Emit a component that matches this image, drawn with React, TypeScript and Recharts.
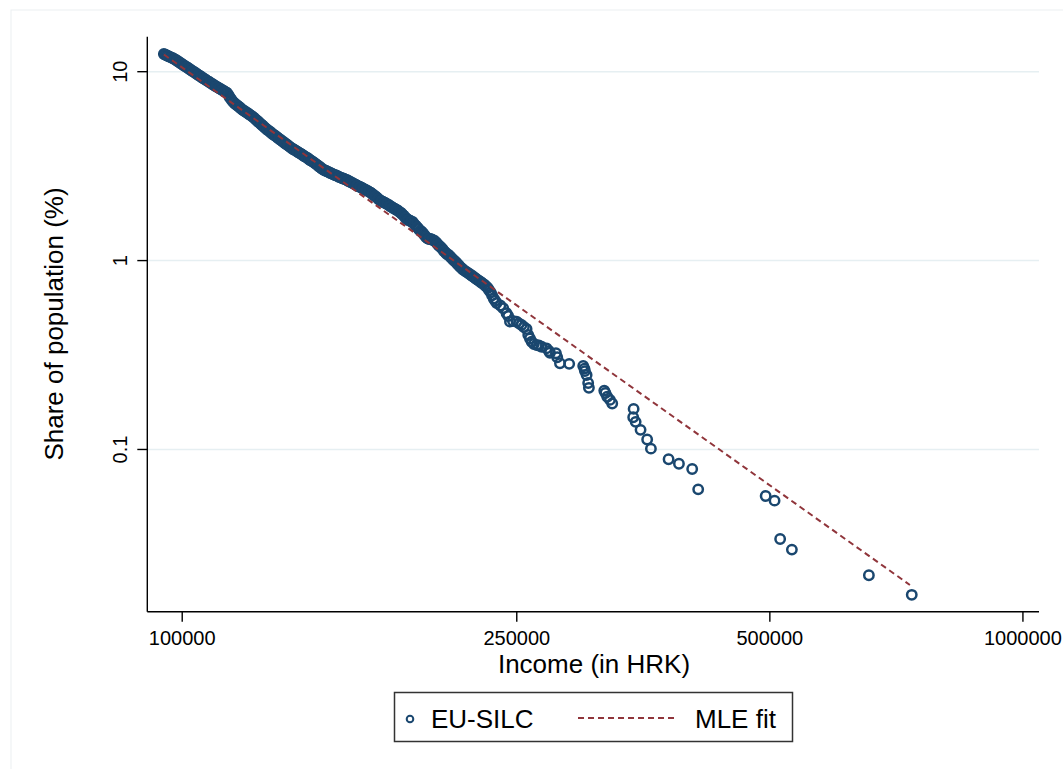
import { ScatterChart, Scatter, XAxis, YAxis, CartesianGrid } from "recharts";

// EU-SILC observations: income (HRK) and share of population above it (%)
const incomeHRK = [
  95100, 95900, 96700, 97500, 98300, 99100, 99900, 100700, 101600, 102400,
  103300, 104100, 105000, 105800, 106700, 107600, 108500, 109400, 110300, 111200,
  112100, 113000, 113900, 114900, 115800, 116800, 117800, 118700, 119700, 120700,
  121700, 122700, 123700, 124700, 125700, 126800, 127800, 128900, 129900, 131000,
  132100, 133200, 134300, 135400, 136500, 137600, 138800, 139900, 141100, 142200,
  143400, 144600, 145800, 147000, 148200, 149400, 150600, 151900, 153100, 154400,
  155700, 157000, 158200, 159600, 160900, 162200, 163500, 164900, 166200, 167600,
  169000, 170400, 171800, 173200, 174600, 176100, 177500, 179000, 180500, 182000,
  183500, 185000, 186500, 188000, 189600, 191100, 192700, 194300, 195900, 197500,
  199200, 200800, 202500, 204100, 205800, 207500, 209200, 210900, 212700, 214400,
  216200, 218000, 219800, 221600, 223400, 225300, 227100, 229000, 230900, 232800,
  234700, 236600, 239000, 240900, 243100, 244200, 245400, 247400, 249900, 251500,
  253300, 254900, 256800, 258000, 259200, 260400, 262000, 264000, 265600, 267600,
  271300, 273000, 273800, 278300, 279300, 281400, 288600, 299900, 300900, 301300,
  302700, 304000, 304600, 317700, 318700, 320300, 322700, 324700, 344300, 343900,
  346200, 350900, 357300, 361000, 378900, 389800, 404200, 410900, 494300, 506500,
  514300, 531100, 655800, 737500,
];
const sharePct = [
  12.41, 12.19, 11.98, 11.77, 11.54, 11.26, 10.99, 10.72, 10.46, 10.21,
  9.96, 9.72, 9.49, 9.26, 9.05, 8.84, 8.63, 8.43, 8.25, 8.08,
  7.91, 7.74, 7.33, 6.94, 6.73, 6.52, 6.32, 6.17, 6.02, 5.87,
  5.7, 5.52, 5.34, 5.17, 5.01, 4.86, 4.72, 4.59, 4.47, 4.35,
  4.23, 4.12, 4.0, 3.9, 3.82, 3.73, 3.65, 3.56, 3.48, 3.39,
  3.31, 3.22, 3.13, 3.04, 2.99, 2.94, 2.89, 2.84, 2.8, 2.75,
  2.71, 2.67, 2.62, 2.57, 2.52, 2.47, 2.43, 2.38, 2.34, 2.29,
  2.22, 2.16, 2.09, 2.05, 2.01, 1.97, 1.92, 1.88, 1.84, 1.79,
  1.73, 1.66, 1.63, 1.6, 1.53, 1.47, 1.42, 1.36, 1.31, 1.3,
  1.28, 1.24, 1.19, 1.15, 1.1, 1.07, 1.03, 0.995, 0.957, 0.921,
  0.89, 0.869, 0.848, 0.826, 0.804, 0.783, 0.763, 0.743, 0.716, 0.679,
  0.63, 0.596, 0.578, 0.559, 0.526, 0.509, 0.475, 0.479, 0.475, 0.465,
  0.456, 0.445, 0.434, 0.404, 0.387, 0.372, 0.362, 0.357, 0.355, 0.35,
  0.343, 0.332, 0.325, 0.323, 0.308, 0.286, 0.284, 0.277, 0.268, 0.26,
  0.248, 0.225, 0.212, 0.205, 0.199, 0.19, 0.183, 0.175, 0.164, 0.148,
  0.14, 0.127, 0.113, 0.101, 0.0887, 0.0841, 0.0788, 0.0615, 0.0567, 0.0536,
  0.0336, 0.0295, 0.0216, 0.017,
];

// more observations read along the dense band (95k - 236k HRK)
const bandIncome = [
  95500, 96300, 97100, 97900, 98700, 99500, 100300, 101200, 102000, 102800,
  103700, 104500, 105400, 106300, 107100, 108000, 108900, 109800, 110700, 111600,
  112500, 113500, 114400, 115300, 116300, 117300, 118200, 119200, 120200, 121200,
  122200, 123200, 124200, 125200, 126200, 127300, 128300, 129400, 130400, 131500,
  132600, 133700, 134800, 135900, 137100, 138200, 139300, 140500, 141600, 142800,
  144000, 145200, 146400, 147600, 148800, 150000, 151200, 152500, 153700, 155000,
  156300, 157600, 158900, 160200, 161500, 162800, 164200, 165500, 166900, 168300,
  169700, 171100, 172500, 173900, 175300, 176800, 178200, 179700, 181200, 182700,
  184200, 185700, 187200, 188800, 190300, 191900, 193500, 195100, 196700, 198300,
  200000, 201600, 203300, 204900, 206600, 208300, 210000, 211800, 213500, 215300,
  217100, 218900, 220700, 222500, 224300, 226200, 228000, 229900, 231800, 233700,
  235600,
];
const bandShare = [
  12.3, 12.08, 11.87, 11.65, 11.4, 11.12, 10.85, 10.59, 10.33, 10.08,
  9.84, 9.6, 9.37, 9.15, 8.94, 8.73, 8.53, 8.34, 8.16, 7.99,
  7.82, 7.53, 7.13, 6.83, 6.62, 6.42, 6.24, 6.09, 5.94, 5.78,
  5.61, 5.43, 5.25, 5.09, 4.93, 4.79, 4.65, 4.53, 4.41, 4.29,
  4.17, 4.06, 3.95, 3.86, 3.77, 3.69, 3.6, 3.52, 3.43, 3.35,
  3.26, 3.17, 3.08, 3.01, 2.96, 2.91, 2.86, 2.82, 2.77, 2.73,
  2.69, 2.64, 2.59, 2.54, 2.49, 2.45, 2.4, 2.36, 2.31, 2.25,
  2.19, 2.12, 2.07, 2.03, 1.99, 1.94, 1.9, 1.86, 1.81, 1.76,
  1.69, 1.64, 1.61, 1.56, 1.5, 1.44, 1.39, 1.33, 1.3, 1.29,
  1.26, 1.21, 1.17, 1.12, 1.08, 1.05, 1.01, 0.976, 0.939, 0.905,
  0.879, 0.858, 0.837, 0.815, 0.793, 0.773, 0.753, 0.729, 0.697, 0.654,
  0.613,
];

// MLE (Pareto) fit, straight line on log-log axes
const fitIncome = [95100, 733800];
const fitShare = [12.33, 0.01917];

const xTicks = [100000, 250000, 500000, 1000000];
const yTicks = [0.1, 1, 10];

const surveyData = [
  ...incomeHRK.map((x, i) => ({ x, y: sharePct[i] })),
  ...bandIncome.map((x, i) => ({ x, y: bandShare[i] })),
];
const fitData = fitIncome.map((x, i) => ({ x, y: fitShare[i] }));

const NAVY = "#1a476f";
const MAROON = "#90353b";
const FONT = "'Liberation Sans', Arial, sans-serif";

const renderXTick = (props: any) => {
  const { x, payload } = props;
  return (
    <text x={x} y={645} textAnchor="middle" fontSize={20} fill="#000" fontFamily={FONT}>
      {payload.value}
    </text>
  );
};

const renderYTick = (props: any) => {
  const { y, payload } = props;
  return (
    <text
      transform={`translate(127,${y}) rotate(-90)`}
      textAnchor="middle"
      fontSize={20}
      fill="#000"
      fontFamily={FONT}
    >
      {String(payload.value)}
    </text>
  );
};

const hollowCircle = (props: any) => (
  <circle cx={props.cx} cy={props.cy} r={4.7} fill="none" stroke={NAVY} strokeWidth={2.5} />
);

function App() {
  return (
    <div style={styles.page}>
      <ScatterChart
        width={1063}
        height={769}
        margin={{ top: 36.7, right: 24, bottom: 97.3, left: 0 }}
      >
        <CartesianGrid vertical={false} stroke="#e6eff2" strokeWidth={1.5} syncWithTicks />
        <XAxis
          type="number"
          dataKey="x"
          scale="log"
          domain={[90880, 1045000]}
          allowDataOverflow
          ticks={xTicks}
          interval={0}
          height={60}
          tickSize={10}
          axisLine={{ stroke: "#000", strokeWidth: 1.4 }}
          tickLine={{ stroke: "#000", strokeWidth: 1.4 }}
          tick={renderXTick}
        />
        <YAxis
          type="number"
          dataKey="y"
          scale="log"
          domain={[0.01384, 15.32]}
          allowDataOverflow
          ticks={yTicks}
          interval={0}
          width={147.3}
          tickSize={10}
          axisLine={{ stroke: "#000", strokeWidth: 1.4 }}
          tickLine={{ stroke: "#000", strokeWidth: 1.4 }}
          tick={renderYTick}
        />
        <Scatter
          name="EU-SILC"
          data={surveyData}
          shape={hollowCircle}
          isAnimationActive={false}
        />
        <Scatter
          name="MLE fit"
          data={fitData}
          fill={MAROON}
          line={{ stroke: MAROON, strokeWidth: 2, strokeDasharray: "6 4" }}
          shape={() => <g />}
          isAnimationActive={false}
        />
      </ScatterChart>

      <svg width={1063} height={769} style={styles.overlay}>
        <rect x={11} y={10} width={1100} height={800} fill="none" stroke="#eceff1" strokeWidth={1} />
        <text x={594} y={673} textAnchor="middle" fontSize={26} fill="#000" fontFamily={FONT}>
          Income (in HRK)
        </text>
        <text
          transform="translate(63,324) rotate(-90)"
          textAnchor="middle"
          fontSize={26}
          fill="#000"
          fontFamily={FONT}
        >
          Share of population (%)
        </text>
        <rect x={394.5} y={692.5} width={398} height={49} fill="#fff" stroke="#333" strokeWidth={1.5} />
        <circle cx={410} cy={719} r={3.3} fill="none" stroke={NAVY} strokeWidth={2} />
        <text x={431} y={728} fontSize={26} fill="#000" fontFamily={FONT}>
          EU-SILC
        </text>
        <line x1={578} y1={718} x2={677} y2={718} stroke={MAROON} strokeWidth={2} strokeDasharray="6 4" />
        <text x={695} y={728} fontSize={26} fill="#000" fontFamily={FONT}>
          MLE fit
        </text>
      </svg>
    </div>
  );
}

export default App;

const styles = {
  page: {
    position: "absolute" as const,
    left: 0,
    top: 0,
    width: 1063,
    height: 769,
    background: "#fff",
  },
  overlay: {
    position: "absolute" as const,
    left: 0,
    top: 0,
    pointerEvents: "none" as const,
  },
};
